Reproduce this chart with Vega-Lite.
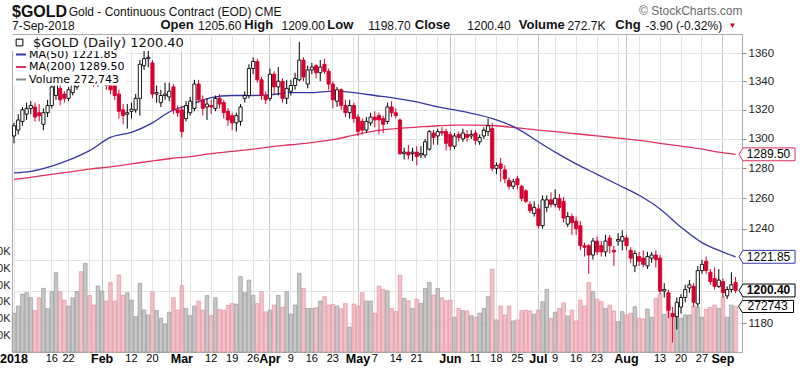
{
"$schema": "https://vega.github.io/schema/vega-lite/v6.json",
"width": 730, "height": 318,
"autosize": {"type": "none"},
"padding": {"left": 12, "top": 34, "right": 58, "bottom": 22},
"background": "white",
"config": {"font": "Liberation Sans", "view": {"stroke": "#aaaaaa", "strokeWidth": 1}},
"title": {
  "text": "$GOLD",
  "subtitle": ["\u200b\u00a0\u00a0\u00a0\u00a0\u00a0\u00a0\u00a0\u00a0\u00a0\u00a0\u00a0\u00a0\u00a0\u00a0\u00a0\u00a0\u00a0Gold - Continuous Contract (EOD) CME",
    "7-Sep-2018\u00a0\u00a0\u00a0\u00a0\u00a0\u00a0\u00a0\u00a0\u00a0\u00a0\u00a0\u00a0\u00a0\u00a0\u00a0\u00a0\u00a0\u00a0\u00a0\u00a0\u00a0\u00a0\u00a0\u00a0\u00a0\u00a0\u00a0\u00a0\u00a0\u00a0\u00a0\u00a0\u00a0\u00a0\u00a0\u00a0\u00a01205.60\u00a0\u00a0\u00a0\u00a0\u00a0\u00a0\u00a0\u00a0\u00a0\u00a0\u00a0\u00a01209.00\u00a0\u00a0\u00a0\u00a0\u00a0\u00a0\u00a0\u00a0\u00a0\u00a0\u00a0\u00a0\u00a01198.70\u00a0\u00a0\u00a0\u00a0\u00a0\u00a0\u00a0\u00a0\u00a0\u00a0\u00a0\u00a0\u00a0\u00a0\u00a0\u00a0\u00a01200.40\u00a0\u00a0\u00a0\u00a0\u00a0\u00a0\u00a0\u00a0\u00a0\u00a0\u00a0\u00a0\u00a0\u00a0\u00a0\u00a0\u00a0272.7K\u00a0\u00a0\u00a0\u00a0\u00a0\u00a0\u00a0\u00a0\u00a0\u00a0\u00a0\u00a0-3.90 (-0.32%)"],
  "anchor": "start", "frame": "group", "offset": 3, "dy": 31,
  "font": "Liberation Sans", "fontSize": 16, "fontWeight": "bold", "color": "#111111",
  "subtitleFont": "Liberation Sans", "subtitleFontSize": 12, "subtitleColor": "#111111",
  "subtitlePadding": -13, "subtitleLineHeight": 14
},
"datasets": {
"px": [
{"d":"2018-01-02","o":1302,"h":1311,"l":1297,"c":1309,"v":232000},
{"d":"2018-01-03","o":1306,"h":1317,"l":1303,"c":1313,"v":275000},
{"d":"2018-01-04","o":1312,"h":1322,"l":1309,"c":1320,"v":347000},
{"d":"2018-01-05","o":1317,"h":1325,"l":1313,"c":1321,"v":355000},
{"d":"2018-01-08","o":1321,"h":1326,"l":1317,"c":1323,"v":325000},
{"d":"2018-01-09","o":1322,"h":1325,"l":1312,"c":1315,"v":248000},
{"d":"2018-01-10","o":1318,"h":1324,"l":1312,"c":1316,"v":325000},
{"d":"2018-01-11","o":1310,"h":1321,"l":1306,"c":1318,"v":381000},
{"d":"2018-01-12","o":1318,"h":1327,"l":1315,"c":1323,"v":259000},
{"d":"2018-01-16","o":1323,"h":1339,"l":1321,"c":1336,"v":361000},
{"d":"2018-01-17","o":1330,"h":1341,"l":1327,"c":1338,"v":475000},
{"d":"2018-01-18","o":1335,"h":1338,"l":1323,"c":1327,"v":361000},
{"d":"2018-01-19","o":1331,"h":1333,"l":1325,"c":1328,"v":311000},
{"d":"2018-01-22","o":1328,"h":1336,"l":1326,"c":1334,"v":275000},
{"d":"2018-01-23","o":1332,"h":1341,"l":1330,"c":1338,"v":325000},
{"d":"2018-01-24","o":1336,"h":1362,"l":1334,"c":1358,"v":361000},
{"d":"2018-01-25","o":1358,"h":1366,"l":1343,"c":1350,"v":481000},
{"d":"2018-01-26","o":1348,"h":1357,"l":1343,"c":1353,"v":531000},
{"d":"2018-01-29","o":1352,"h":1354,"l":1338,"c":1342,"v":339000},
{"d":"2018-01-30","o":1342,"h":1346,"l":1336,"c":1340,"v":281000},
{"d":"2018-01-31","o":1339,"h":1349,"l":1336,"c":1345,"v":395000},
{"d":"2018-02-01","o":1344,"h":1352,"l":1338,"c":1348,"v":365000},
{"d":"2018-02-02","o":1349,"h":1351,"l":1334,"c":1337,"v":305000},
{"d":"2018-02-05","o":1343,"h":1347,"l":1331,"c":1334,"v":417000},
{"d":"2018-02-06","o":1340,"h":1346,"l":1327,"c":1330,"v":305000},
{"d":"2018-02-07","o":1331,"h":1334,"l":1314,"c":1319,"v":461000},
{"d":"2018-02-08","o":1320,"h":1324,"l":1310,"c":1316,"v":339000},
{"d":"2018-02-09","o":1317,"h":1324,"l":1307,"c":1318,"v":355000},
{"d":"2018-02-12","o":1319,"h":1325,"l":1314,"c":1320.5,"v":311000},
{"d":"2018-02-13","o":1320,"h":1331,"l":1318,"c":1328,"v":212000},
{"d":"2018-02-14","o":1328,"h":1355,"l":1316,"c":1352,"v":411000},
{"d":"2018-02-15","o":1351,"h":1362,"l":1348,"c":1356,"v":251000},
{"d":"2018-02-16","o":1356,"h":1364,"l":1350,"c":1357,"v":222000},
{"d":"2018-02-20","o":1353,"h":1355,"l":1328,"c":1331,"v":361000},
{"d":"2018-02-21","o":1331,"h":1337,"l":1325,"c":1332,"v":248000},
{"d":"2018-02-22","o":1325,"h":1334,"l":1322,"c":1330,"v":202000},
{"d":"2018-02-23","o":1330,"h":1339,"l":1327,"c":1331,"v":168000},
{"d":"2018-02-26","o":1329,"h":1339,"l":1326,"c":1333,"v":238000},
{"d":"2018-02-27","o":1336,"h":1338,"l":1317,"c":1320,"v":325000},
{"d":"2018-02-28","o":1320,"h":1323,"l":1315,"c":1318,"v":251000},
{"d":"2018-03-01","o":1320,"h":1323,"l":1301,"c":1305,"v":397000},
{"d":"2018-03-02","o":1314,"h":1326,"l":1312,"c":1323,"v":261000},
{"d":"2018-03-05","o":1318,"h":1329,"l":1316,"c":1326,"v":218000},
{"d":"2018-03-06","o":1321,"h":1341,"l":1319,"c":1338,"v":275000},
{"d":"2018-03-07","o":1338,"h":1341,"l":1325,"c":1327,"v":305000},
{"d":"2018-03-08","o":1327,"h":1330,"l":1316,"c":1321,"v":251000},
{"d":"2018-03-09","o":1322,"h":1328,"l":1313,"c":1324,"v":339000},
{"d":"2018-03-12","o":1323,"h":1327,"l":1317,"c":1322,"v":218000},
{"d":"2018-03-13","o":1321,"h":1330,"l":1319,"c":1328,"v":325000},
{"d":"2018-03-14","o":1328,"h":1331,"l":1321,"c":1324,"v":255000},
{"d":"2018-03-15","o":1325,"h":1327,"l":1314,"c":1318,"v":251000},
{"d":"2018-03-16","o":1319,"h":1321,"l":1309,"c":1313,"v":279000},
{"d":"2018-03-19","o":1316,"h":1318,"l":1306,"c":1311,"v":291000},
{"d":"2018-03-20","o":1311,"h":1318,"l":1305,"c":1316,"v":287000},
{"d":"2018-03-21","o":1312,"h":1324,"l":1309,"c":1322,"v":451000},
{"d":"2018-03-22","o":1328,"h":1333,"l":1325,"c":1330,"v":355000},
{"d":"2018-03-23","o":1330,"h":1352,"l":1328,"c":1349,"v":431000},
{"d":"2018-03-26","o":1349,"h":1357,"l":1345,"c":1354,"v":339000},
{"d":"2018-03-27","o":1354,"h":1356,"l":1339,"c":1341,"v":291000},
{"d":"2018-03-28","o":1341,"h":1343,"l":1327,"c":1330,"v":361000},
{"d":"2018-03-29","o":1330,"h":1333,"l":1324,"c":1327,"v":240000},
{"d":"2018-04-02","o":1328,"h":1349,"l":1326,"c":1345,"v":251000},
{"d":"2018-04-03","o":1345,"h":1347,"l":1331,"c":1336,"v":281000},
{"d":"2018-04-04","o":1336,"h":1350,"l":1330,"c":1340,"v":339000},
{"d":"2018-04-05","o":1340,"h":1342,"l":1325,"c":1328,"v":267000},
{"d":"2018-04-06","o":1328,"h":1341,"l":1324,"c":1335,"v":361000},
{"d":"2018-04-09","o":1333,"h":1341,"l":1330,"c":1337,"v":226000},
{"d":"2018-04-10","o":1337,"h":1346,"l":1334,"c":1342,"v":281000},
{"d":"2018-04-11","o":1341,"h":1368,"l":1340,"c":1355,"v":471000},
{"d":"2018-04-12","o":1355,"h":1357,"l":1340,"c":1343,"v":381000},
{"d":"2018-04-13","o":1338,"h":1351,"l":1335,"c":1348,"v":261000},
{"d":"2018-04-16","o":1348,"h":1353,"l":1345,"c":1350,"v":261000},
{"d":"2018-04-17","o":1351,"h":1352,"l":1342,"c":1346,"v":265000},
{"d":"2018-04-18","o":1346,"h":1355,"l":1340,"c":1350,"v":305000},
{"d":"2018-04-19","o":1352,"h":1356,"l":1345,"c":1347,"v":331000},
{"d":"2018-04-20","o":1347,"h":1349,"l":1334,"c":1338,"v":281000},
{"d":"2018-04-23","o":1338,"h":1340,"l":1321,"c":1327,"v":285000},
{"d":"2018-04-24","o":1326,"h":1336,"l":1322,"c":1334,"v":275000},
{"d":"2018-04-25","o":1334,"h":1335,"l":1320,"c":1323,"v":259000},
{"d":"2018-04-26","o":1323,"h":1327,"l":1315,"c":1318,"v":291000},
{"d":"2018-04-27","o":1318,"h":1327,"l":1314,"c":1323,"v":148000},
{"d":"2018-04-30","o":1323,"h":1325,"l":1311,"c":1314,"v":287000},
{"d":"2018-05-01","o":1315,"h":1317,"l":1302,"c":1305,"v":275000},
{"d":"2018-05-02","o":1312,"h":1314,"l":1303,"c":1306,"v":355000},
{"d":"2018-05-03","o":1306,"h":1315,"l":1304,"c":1312,"v":305000},
{"d":"2018-05-04","o":1311,"h":1318,"l":1309,"c":1315,"v":305000},
{"d":"2018-05-07","o":1315,"h":1319,"l":1308,"c":1313,"v":232000},
{"d":"2018-05-08","o":1316,"h":1318,"l":1303,"c":1313,"v":395000},
{"d":"2018-05-09","o":1314,"h":1316,"l":1304,"c":1310,"v":375000},
{"d":"2018-05-10","o":1312,"h":1325,"l":1310,"c":1322,"v":367000},
{"d":"2018-05-11","o":1322,"h":1326,"l":1315,"c":1318,"v":261000},
{"d":"2018-05-14","o":1318,"h":1321,"l":1314,"c":1316,"v":242000},
{"d":"2018-05-15","o":1313,"h":1314,"l":1289,"c":1290,"v":461000},
{"d":"2018-05-16","o":1290,"h":1294,"l":1286,"c":1291,"v":321000},
{"d":"2018-05-17","o":1291,"h":1296,"l":1286,"c":1289,"v":307000},
{"d":"2018-05-18","o":1290,"h":1294,"l":1285,"c":1291,"v":261000},
{"d":"2018-05-21","o":1291,"h":1295,"l":1282,"c":1288,"v":317000},
{"d":"2018-05-22","o":1289,"h":1295,"l":1287,"c":1290,"v":291000},
{"d":"2018-05-23","o":1289,"h":1300,"l":1287,"c":1298,"v":381000},
{"d":"2018-05-24","o":1293,"h":1306,"l":1292,"c":1305,"v":417000},
{"d":"2018-05-25","o":1304,"h":1306,"l":1296,"c":1301,"v":341000},
{"d":"2018-05-29","o":1302,"h":1307,"l":1296,"c":1305,"v":381000},
{"d":"2018-05-30","o":1305,"h":1308,"l":1302,"c":1304,"v":325000},
{"d":"2018-05-31","o":1305,"h":1307,"l":1292,"c":1297,"v":307000},
{"d":"2018-06-01","o":1303,"h":1305,"l":1292,"c":1295,"v":311000},
{"d":"2018-06-04","o":1295,"h":1304,"l":1293,"c":1302,"v":208000},
{"d":"2018-06-05","o":1303,"h":1305,"l":1298,"c":1301,"v":261000},
{"d":"2018-06-06","o":1300,"h":1307,"l":1298,"c":1304,"v":248000},
{"d":"2018-06-07","o":1303,"h":1306,"l":1298,"c":1301,"v":246000},
{"d":"2018-06-08","o":1302,"h":1306,"l":1300,"c":1303,"v":218000},
{"d":"2018-06-11","o":1304,"h":1306,"l":1296,"c":1299,"v":208000},
{"d":"2018-06-12","o":1298,"h":1303,"l":1296,"c":1301,"v":232000},
{"d":"2018-06-13","o":1302,"h":1308,"l":1300,"c":1306,"v":261000},
{"d":"2018-06-14","o":1305,"h":1314,"l":1302,"c":1309,"v":331000},
{"d":"2018-06-15","o":1307,"h":1311,"l":1278,"c":1280,"v":495000},
{"d":"2018-06-18","o":1280,"h":1284,"l":1276,"c":1282,"v":192000},
{"d":"2018-06-19","o":1283,"h":1287,"l":1271,"c":1280,"v":275000},
{"d":"2018-06-20","o":1279,"h":1282,"l":1270,"c":1273,"v":222000},
{"d":"2018-06-21","o":1272,"h":1274,"l":1266,"c":1268,"v":275000},
{"d":"2018-06-22","o":1268,"h":1273,"l":1266,"c":1271,"v":186000},
{"d":"2018-06-25","o":1273,"h":1275,"l":1266,"c":1269,"v":192000},
{"d":"2018-06-26","o":1268,"h":1269,"l":1258,"c":1260,"v":248000},
{"d":"2018-06-27","o":1265,"h":1266,"l":1257,"c":1258,"v":251000},
{"d":"2018-06-28","o":1256,"h":1258,"l":1250,"c":1252,"v":246000},
{"d":"2018-06-29","o":1250,"h":1258,"l":1248,"c":1254,"v":226000},
{"d":"2018-07-02","o":1253,"h":1256,"l":1240,"c":1242,"v":251000},
{"d":"2018-07-03","o":1242,"h":1262,"l":1240,"c":1259,"v":301000},
{"d":"2018-07-05","o":1254,"h":1262,"l":1251,"c":1259,"v":375000},
{"d":"2018-07-06","o":1259,"h":1264,"l":1254,"c":1256,"v":202000},
{"d":"2018-07-09","o":1256,"h":1266,"l":1254,"c":1260,"v":238000},
{"d":"2018-07-10","o":1260,"h":1263,"l":1252,"c":1254,"v":261000},
{"d":"2018-07-11","o":1258,"h":1261,"l":1244,"c":1247,"v":295000},
{"d":"2018-07-12","o":1243,"h":1251,"l":1241,"c":1248,"v":216000},
{"d":"2018-07-13","o":1248,"h":1250,"l":1236,"c":1244,"v":251000},
{"d":"2018-07-16","o":1245,"h":1248,"l":1236,"c":1240,"v":186000},
{"d":"2018-07-17","o":1242,"h":1245,"l":1226,"c":1229,"v":311000},
{"d":"2018-07-18","o":1229,"h":1231,"l":1222,"c":1228,"v":275000},
{"d":"2018-07-19","o":1229,"h":1230,"l":1211,"c":1223,"v":417000},
{"d":"2018-07-20","o":1223,"h":1234,"l":1220,"c":1232,"v":361000},
{"d":"2018-07-23","o":1232,"h":1235,"l":1223,"c":1225,"v":317000},
{"d":"2018-07-24","o":1229,"h":1232,"l":1222,"c":1225,"v":301000},
{"d":"2018-07-25","o":1225,"h":1236,"l":1222,"c":1232,"v":261000},
{"d":"2018-07-26","o":1234,"h":1236,"l":1224,"c":1229,"v":281000},
{"d":"2018-07-27","o":1226,"h":1229,"l":1216,"c":1225,"v":246000},
{"d":"2018-07-30","o":1232,"h":1237,"l":1229,"c":1233,"v":182000},
{"d":"2018-07-31","o":1232,"h":1239,"l":1226,"c":1235,"v":242000},
{"d":"2018-08-01","o":1234,"h":1236,"l":1226,"c":1229,"v":222000},
{"d":"2018-08-02","o":1226,"h":1228,"l":1218,"c":1221,"v":232000},
{"d":"2018-08-03","o":1216,"h":1226,"l":1212,"c":1224,"v":271000},
{"d":"2018-08-06","o":1222,"h":1225,"l":1216,"c":1219,"v":202000},
{"d":"2018-08-07","o":1221,"h":1226,"l":1215,"c":1217,"v":198000},
{"d":"2018-08-08","o":1216,"h":1225,"l":1214,"c":1222,"v":257000},
{"d":"2018-08-09","o":1221,"h":1225,"l":1218,"c":1223,"v":208000},
{"d":"2018-08-10","o":1223,"h":1226,"l":1215,"c":1220,"v":321000},
{"d":"2018-08-13","o":1221,"h":1223,"l":1198,"c":1200,"v":345000},
{"d":"2018-08-14","o":1200,"h":1205,"l":1196,"c":1201,"v":226000},
{"d":"2018-08-15","o":1199,"h":1201,"l":1183,"c":1188,"v":271000},
{"d":"2018-08-16","o":1186,"h":1190,"l":1168,"c":1184,"v":208000},
{"d":"2018-08-17","o":1184,"h":1196,"l":1176,"c":1193,"v":257000},
{"d":"2018-08-20","o":1190,"h":1198,"l":1186,"c":1196,"v":202000},
{"d":"2018-08-21","o":1196,"h":1204,"l":1193,"c":1201,"v":222000},
{"d":"2018-08-22","o":1202,"h":1207,"l":1199,"c":1204,"v":222000},
{"d":"2018-08-23","o":1203,"h":1205,"l":1190,"c":1193,"v":275000},
{"d":"2018-08-24","o":1192,"h":1216,"l":1190,"c":1213,"v":267000},
{"d":"2018-08-27","o":1213,"h":1220,"l":1211,"c":1217,"v":208000},
{"d":"2018-08-28","o":1219,"h":1222,"l":1211,"c":1213,"v":255000},
{"d":"2018-08-29","o":1212,"h":1214,"l":1204,"c":1206,"v":267000},
{"d":"2018-08-30","o":1208,"h":1215,"l":1201,"c":1203,"v":281000},
{"d":"2018-08-31","o":1203,"h":1214,"l":1202,"c":1207,"v":261000},
{"d":"2018-09-04","o":1206,"h":1208,"l":1196,"c":1199,"v":330000},
{"d":"2018-09-05","o":1197,"h":1203,"l":1195,"c":1201,"v":208000},
{"d":"2018-09-06","o":1201,"h":1212,"l":1199,"c":1204,"v":281000},
{"d":"2018-09-07","o":1205.6,"h":1209,"l":1198.7,"c":1200.4,"v":272743}
],
"ma": [
{"d":"2018-01-02","m50":1277,"m200":1272.6},
{"d":"2018-01-08","m50":1278,"m200":1274},
{"d":"2018-01-16","m50":1281.5,"m200":1276},
{"d":"2018-01-22","m50":1285.5,"m200":1277.5},
{"d":"2018-01-29","m50":1292,"m200":1279.5},
{"d":"2018-02-05","m50":1301,"m200":1281},
{"d":"2018-02-12","m50":1304.5,"m200":1283},
{"d":"2018-02-20","m50":1311,"m200":1285},
{"d":"2018-02-26","m50":1318.5,"m200":1286.5},
{"d":"2018-03-05","m50":1323.5,"m200":1288},
{"d":"2018-03-12","m50":1328.5,"m200":1290},
{"d":"2018-03-19","m50":1330,"m200":1291.5},
{"d":"2018-03-26","m50":1330,"m200":1293},
{"d":"2018-04-02","m50":1330.5,"m200":1294.5},
{"d":"2018-04-09","m50":1332,"m200":1296},
{"d":"2018-04-16","m50":1332,"m200":1297.5},
{"d":"2018-04-23","m50":1333,"m200":1299.5},
{"d":"2018-04-30","m50":1332,"m200":1302.5},
{"d":"2018-05-07","m50":1330,"m200":1305.5},
{"d":"2018-05-14","m50":1328,"m200":1307},
{"d":"2018-05-21","m50":1325.5,"m200":1308},
{"d":"2018-05-29","m50":1322,"m200":1309},
{"d":"2018-06-04","m50":1320,"m200":1309.5},
{"d":"2018-06-11","m50":1317,"m200":1309.5},
{"d":"2018-06-18","m50":1313,"m200":1309},
{"d":"2018-06-25","m50":1307,"m200":1307.5},
{"d":"2018-07-02","m50":1298,"m200":1306},
{"d":"2018-07-09","m50":1291,"m200":1305},
{"d":"2018-07-16","m50":1283,"m200":1303.5},
{"d":"2018-07-23","m50":1276,"m200":1302},
{"d":"2018-07-30","m50":1269,"m200":1300.5},
{"d":"2018-08-06","m50":1262,"m200":1299},
{"d":"2018-08-13","m50":1253,"m200":1297},
{"d":"2018-08-20","m50":1241,"m200":1295},
{"d":"2018-08-27","m50":1231,"m200":1293},
{"d":"2018-08-31","m50":1226,"m200":1291},
{"d":"2018-09-07","m50":1221.85,"m200":1289.5}
]
},
"encoding": {
  "x": {"field": "d", "type": "ordinal",
    "scale": {"type": "band", "paddingInner": 0.15, "paddingOuter": 0.585, "align": 0.05},
    "axis": {
      "values": ["2018-01-02","2018-01-08","2018-01-16","2018-01-22","2018-01-29","2018-02-01","2018-02-05","2018-02-12","2018-02-20","2018-02-26","2018-03-01","2018-03-05","2018-03-12","2018-03-19","2018-03-26","2018-04-02","2018-04-09","2018-04-16","2018-04-23","2018-04-30","2018-05-01","2018-05-07","2018-05-14","2018-05-21","2018-05-29","2018-06-01","2018-06-04","2018-06-11","2018-06-18","2018-06-25","2018-07-02","2018-07-09","2018-07-16","2018-07-23","2018-07-30","2018-08-01","2018-08-06","2018-08-13","2018-08-20","2018-08-27","2018-09-04"],
      "labelExpr": "['2018','16','22','Feb','12','20','Mar','12','19','26','Apr','9','16','23','May','7','14','21','Jun','11','18','25','Jul','9','16','23','Aug','13','20','27','Sep'][indexof(['2018-01-02','2018-01-16','2018-01-22','2018-02-01','2018-02-12','2018-02-20','2018-03-01','2018-03-12','2018-03-19','2018-03-26','2018-04-02','2018-04-09','2018-04-16','2018-04-23','2018-05-01','2018-05-07','2018-05-14','2018-05-21','2018-06-01','2018-06-11','2018-06-18','2018-06-25','2018-07-02','2018-07-09','2018-07-16','2018-07-23','2018-08-01','2018-08-13','2018-08-20','2018-08-27','2018-09-04'], datum.value)] || ''",
      "labelAngle": 0, "labelAlign": "center", "labelBaseline": "top", "labelPadding": 0,
      "labelOverlap": false, "labelBound": false, "labelFlush": false,
      "labelColor": "#000000",
      "labelFontWeight": {"condition": {"test": "indexof(['2018-01-02','2018-02-01','2018-03-01','2018-04-02','2018-05-01','2018-06-01','2018-07-02','2018-08-01','2018-09-04'], datum.value) >= 0", "value": "bold"}, "value": "normal"},
      "labelFontSize": {"condition": {"test": "indexof(['2018-01-02','2018-02-01','2018-03-01','2018-04-02','2018-05-01','2018-06-01','2018-07-02','2018-08-01','2018-09-04'], datum.value) >= 0", "value": 12.5}, "value": 11},
      "ticks": false, "domain": false, "grid": true, "bandPosition": 0.5,
      "gridColor": {"condition": {"test": "indexof(['2018-02-01','2018-03-01','2018-04-02','2018-05-01','2018-06-01','2018-07-02','2018-08-01','2018-09-04'], datum.value) >= 0", "value": "#c4c4c4"}, "value": "#e4e4e4"},
      "title": "Open\u00a0\u00a0\u00a0\u00a0\u00a0\u00a0\u00a0\u00a0\u00a0\u00a0\u00a0\u00a0\u00a0\u00a0High\u00a0\u00a0\u00a0\u00a0\u00a0\u00a0\u00a0\u00a0\u00a0\u00a0\u00a0\u00a0\u00a0\u00a0\u00a0Low\u00a0\u00a0\u00a0\u00a0\u00a0\u00a0\u00a0\u00a0\u00a0\u00a0\u00a0\u00a0\u00a0\u00a0\u00a0\u00a0\u00a0Close\u00a0\u00a0\u00a0\u00a0\u00a0\u00a0\u00a0\u00a0\u00a0\u00a0\u00a0\u00a0\u00a0\u00a0\u00a0\u00a0\u00a0\u00a0\u00a0Volume\u00a0\u00a0\u00a0\u00a0\u00a0\u00a0\u00a0\u00a0\u00a0\u00a0\u00a0\u00a0\u00a0\u00a0Chg",
      "titleFont": "Liberation Sans", "titleFontSize": 13, "titleFontWeight": "bold", "titleColor": "#111111",
      "titleX": 148, "titleY": -323.5, "titleAlign": "left", "titleAnchor": "start", "titleBaseline": "alphabetic"
    }
  }
},
"layer": [
  {
    "data": {"name": "px"},
    "encoding": {
      "y": {"field": "v", "type": "quantitative",
        "scale": {"domain": [0, 1904000], "nice": false, "zero": true},
        "axis": {"orient": "left", "values": [100000,200000,300000,400000,500000,600000],
          "labelExpr": "format(datum.value/1000,'d') + 'K'", "grid": false, "ticks": false, "domain": false,
          "labelPadding": 2, "labelFontSize": 11, "labelColor": "#222222",
          "title": "\u25bc", "titleAngle": 0, "titleX": 716, "titleY": -6.5, "titleAlign": "left",
          "titleBaseline": "alphabetic", "titleFontSize": 8, "titleColor": "#c8002a", "titleFontWeight": "normal"}
      }
    },
    "layer": [
      {"mark": {"type": "bar", "size": 3.6, "strokeWidth": 0.6, "fillOpacity": 0.8},
       "encoding": {
         "fill": {"condition": {"test": "datum.c < datum.o", "value": "#f0b3bb"}, "value": "#b9b9b9"},
         "stroke": {"condition": {"test": "datum.c < datum.o", "value": "#e08a96"}, "value": "#8f8f8f"}
       }},
      {"transform": [{"filter": "datum.d == '2018-09-07'"}],
       "mark": {"type": "point", "shape": "M-1,0L-0.86,-0.22L1,-0.22L1,0.22L-0.86,0.22Z", "size": 3025, "filled": true, "fill": "white", "stroke": "#000000", "strokeWidth": 1, "opacity": 1, "xOffset": 30.5}},
      {"transform": [{"filter": "datum.d == '2018-09-07'"}],
       "mark": {"type": "text", "align": "center", "baseline": "middle", "dx": 32, "fontSize": 12, "font": "Liberation Sans", "color": "#000000"},
       "encoding": {"text": {"field": "v", "type": "quantitative", "format": "d"}}}
    ]
  },
  {
    "layer": [
      {"data": {"name": "ma"},
       "mark": {"type": "line", "strokeWidth": 1.3, "interpolate": "monotone"},
       "encoding": {
         "y": {"field": "m200", "type": "quantitative",
           "scale": {"type": "log", "domain": [1162.2, 1373.7], "nice": false, "zero": false},
           "axis": {"orient": "right", "values": [1180,1200,1220,1240,1260,1280,1300,1320,1340,1360], "format": "d",
             "labelExpr": "datum.value == 1200 || datum.value == 1220 ? '' : datum.label",
             "grid": true, "gridColor": "#e4e4e4", "tickSize": 4, "tickColor": "#888888", "domain": false,
             "labelFontSize": 11.5, "labelColor": "#222222", "labelPadding": 2,
             "title": "\u00a9 StockCharts.com", "titleAngle": 0, "titleAlign": "right", "titleX": 0, "titleY": -20,
             "titleBaseline": "alphabetic", "titleFontSize": 12, "titleFontWeight": "normal", "titleColor": "#6a6a6a"}},
         "color": {"datum": "MA(200) 1289.50", "type": "nominal",
           "scale": {"domain": ["MA(50) 1221.85", "MA(200) 1289.50", "Volume 272,743"], "range": ["#3636a8", "#e0305e", "#8a8a8a"]},
           "legend": {"orient": "none", "legendX": 2, "legendY": 13.5, "title": null, "symbolType": "stroke", "symbolStrokeWidth": 2, "symbolSize": 100,
             "labelFont": "DejaVu Sans", "labelFontSize": 11, "fillColor": "white", "padding": 1, "rowPadding": 1.5, "labelOffset": 2,
             "encode": {"labels": {"fill": {"condition": [{"test": "datum.value == 'MA(50) 1221.85'", "value": "#3636a8"}, {"test": "datum.value == 'MA(200) 1289.50'", "value": "#e0305e"}], "value": "#777777"}}}}
         }
       }},
      {"data": {"name": "ma"},
       "mark": {"type": "line", "strokeWidth": 1.3, "interpolate": "monotone"},
       "encoding": {
         "y": {"field": "m50", "type": "quantitative"},
         "color": {"datum": "MA(50) 1221.85", "type": "nominal"}
       }},
      {"data": {"name": "px"},
       "mark": {"type": "rule", "strokeWidth": 1},
       "encoding": {
         "y": {"field": "l", "type": "quantitative"},
         "y2": {"field": "h"},
         "color": {"condition": {"test": "datum.c < datum.o", "value": "#d7002f"}, "value": "#000000"}
       }},
      {"data": {"name": "px"},
       "mark": {"type": "bar", "size": 3.2, "strokeWidth": 0.9},
       "encoding": {
         "y": {"field": "o", "type": "quantitative"},
         "y2": {"field": "c"},
         "fill": {"condition": {"test": "datum.c < datum.o", "value": "#d7002f"}, "datum": "$GOLD (Daily) 1200.40", "type": "nominal",
           "scale": {"range": ["#ffffff"]},
           "legend": {"orient": "none", "legendX": 0, "legendY": 1, "title": null, "symbolType": "square", "symbolSize": 45,
             "symbolStrokeColor": "#000000", "symbolStrokeWidth": 1, "labelFont": "DejaVu Sans", "labelFontSize": 13,
             "labelColor": "#111111", "fillColor": "white", "padding": 1, "labelOffset": 7}},
         "stroke": {"condition": {"test": "datum.c < datum.o", "value": "#d7002f"}, "value": "#000000"}
       }},
      {"data": {"name": "ma"}, "transform": [{"filter": "datum.d == '2018-09-07'"}],
       "mark": {"type": "point", "shape": "M-1,0L-0.86,-0.23L1,-0.23L1,0.23L-0.86,0.23Z", "size": 3136, "filled": true, "fill": "white", "stroke": "#e0305e", "strokeWidth": 1, "opacity": 1, "xOffset": 31.5},
       "encoding": {"y": {"field": "m200", "type": "quantitative"}}},
      {"data": {"name": "ma"}, "transform": [{"filter": "datum.d == '2018-09-07'"}],
       "mark": {"type": "text", "align": "center", "baseline": "middle", "dx": 33, "fontSize": 12, "font": "Liberation Sans", "color": "#000000"},
       "encoding": {"y": {"field": "m200", "type": "quantitative"}, "text": {"field": "m200", "type": "quantitative", "format": ".2f"}}},
      {"data": {"name": "ma"}, "transform": [{"filter": "datum.d == '2018-09-07'"}],
       "mark": {"type": "point", "shape": "M-1,0L-0.86,-0.23L1,-0.23L1,0.23L-0.86,0.23Z", "size": 3136, "filled": true, "fill": "white", "stroke": "#3636a8", "strokeWidth": 1, "opacity": 1, "xOffset": 31.5},
       "encoding": {"y": {"field": "m50", "type": "quantitative"}}},
      {"data": {"name": "ma"}, "transform": [{"filter": "datum.d == '2018-09-07'"}],
       "mark": {"type": "text", "align": "center", "baseline": "middle", "dx": 33, "fontSize": 12, "font": "Liberation Sans", "color": "#000000"},
       "encoding": {"y": {"field": "m50", "type": "quantitative"}, "text": {"field": "m50", "type": "quantitative", "format": ".2f"}}},
      {"data": {"name": "px"}, "transform": [{"filter": "datum.d == '2018-09-07'"}],
       "mark": {"type": "point", "shape": "M-1,0L-0.86,-0.23L1,-0.23L1,0.23L-0.86,0.23Z", "size": 3136, "filled": true, "fill": "white", "stroke": "#000000", "strokeWidth": 1, "opacity": 1, "xOffset": 31.5},
       "encoding": {"y": {"field": "c", "type": "quantitative"}}},
      {"data": {"name": "px"}, "transform": [{"filter": "datum.d == '2018-09-07'"}],
       "mark": {"type": "text", "align": "center", "baseline": "middle", "dx": 33, "fontSize": 12, "fontWeight": "bold", "font": "Liberation Sans", "color": "#000000"},
       "encoding": {"y": {"field": "c", "type": "quantitative"}, "text": {"field": "c", "type": "quantitative", "format": ".2f"}}}
    ]
  }
],
"resolve": {"scale": {"y": "independent"}, "axis": {"y": "independent"}}
}
